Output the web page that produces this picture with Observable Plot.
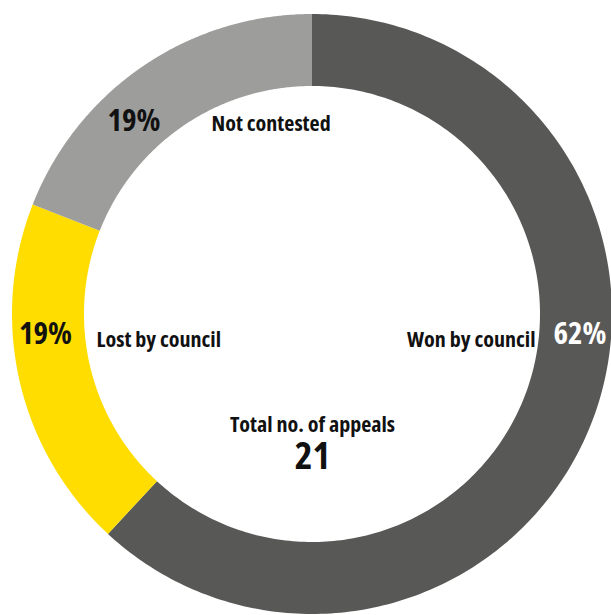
<!DOCTYPE html>
<html>
<head>
<meta charset="utf-8">
<script src="https://cdn.jsdelivr.net/npm/d3@7"></script>
<script src="https://cdn.jsdelivr.net/npm/@observablehq/plot@0.6"></script>
<style>
  html, body { margin: 0; padding: 0; background: #fff; }
  #chart svg { display: block; }
</style>
</head>
<body>
<div id="chart"></div>
<script>
// ---- data ----
const categories = ["Won by council", "Lost by council", "Not contested"];
const appeals = [13, 4, 4];
const centerTitle = "Total no. of appeals";

// ---- styling / layout ----
const sliceColors = ["#585857", "#FFDD00", "#9D9D9C"];
const pctColors = ["#ffffff", "#111111", "#111111"];
const W = 611, H = 615;
const cx = 312, cy = 314;      // centre in pixels
const rOuter = 300, rInner = 228;

const total = d3.sum(appeals);
const pie = d3.pie().sort(null).value(d => d.value);
const arcs = pie(categories.map((c, i) => ({cat: c, value: appeals[i]})));

// sample each slice as an annular band (x1,y1 inner edge; x2,y2 outer edge)
const ringRows = [];
for (const a of arcs) {
  const n = 240;
  for (let k = 0; k <= n; k++) {
    const t = a.startAngle + (a.endAngle - a.startAngle) * k / n;
    ringRows.push({
      cat: a.data.cat,
      x1: rInner * Math.sin(t), y1: rInner * Math.cos(t),
      x2: rOuter * Math.sin(t), y2: rOuter * Math.cos(t)
    });
  }
}

// label placement (offsets from the centre, y up; baseline positions)
const labelLayout = {
  "Won by council":  {pct: [267.5, -29], name: [223, -32], anchor: "end"},
  "Lost by council": {pct: [-267, -29], name: [-216, -32], anchor: "start"},
  "Not contested":   {pct: [-178.5, 184], name: [-101, 184], anchor: "start"}
};
const pctRows = categories.map((c, i) => ({
  cat: c,
  label: Math.round(appeals[i] / total * 100) + "%",
  x: labelLayout[c].pct[0], y: labelLayout[c].pct[1], color: pctColors[i]
}));
const nameRows = categories.map(c => ({
  cat: c, x: labelLayout[c].name[0], y: labelLayout[c].name[1], anchor: labelLayout[c].anchor
}));

const nameOpts = {x: "x", y: "y", text: "cat", fill: "#111", fontSize: 22, fontWeight: 700, lineAnchor: "bottom"};

const chart = Plot.plot({
  width: W,
  height: H,
  margin: 0,
  x: {domain: [-cx, W - cx], range: [0, W], axis: null},
  y: {domain: [-(H - cy), cy], range: [H, 0], axis: null},
  color: {domain: categories, range: sliceColors},
  style: {
    fontFamily: "'Open Sans', 'Noto Sans', sans-serif",
    fontStretch: "75%",
    fontWeight: 700,
    background: "#fff"
  },
  marks: [
    Plot.area(ringRows, {x1: "x1", y1: "y1", x2: "x2", y2: "y2", fill: "cat", z: "cat"}),
    Plot.text(pctRows, {x: "x", y: "y", text: "label", fill: "color", fontSize: 31, fontWeight: 700, textAnchor: "middle", lineAnchor: "bottom"}),
    Plot.text(nameRows.filter(d => d.anchor === "start"), {...nameOpts, textAnchor: "start"}),
    Plot.text(nameRows.filter(d => d.anchor === "end"), {...nameOpts, textAnchor: "end"}),
    Plot.text([centerTitle], {x: () => 0, y: () => -117, text: d => d, fill: "#111", fontSize: 22, fontWeight: 700, textAnchor: "middle", lineAnchor: "bottom"}),
    Plot.text([total], {x: () => 0, y: () => -154, text: d => String(d), fill: "#111", fontSize: 38, fontWeight: 700, textAnchor: "middle", lineAnchor: "bottom"})
  ]
});
document.getElementById("chart").appendChild(chart);
</script>
</body>
</html>
